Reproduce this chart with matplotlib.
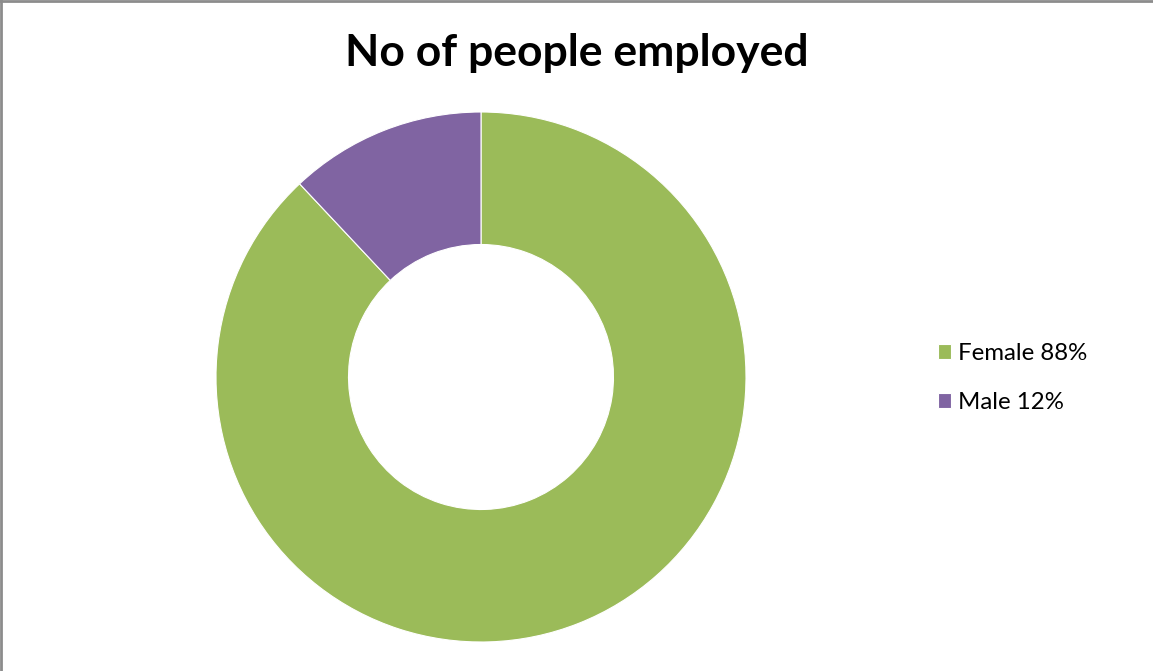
import matplotlib
matplotlib.use("Agg")
import matplotlib.pyplot as plt
from matplotlib.lines import Line2D

labels = ["Female 88%", "Male 12%"]
values = [88, 12]
colors = ["#9BBB59", "#8064A2"]
title = "No of people employed"

W, H = 1153, 671
fig = plt.figure(figsize=(W / 100, H / 100), dpi=100)
fig.patch.set_facecolor("white")

cx, cy, r = 481, 377, 265
ax = fig.add_axes([(cx - r) / W, (H - cy - r) / H, 2 * r / W, 2 * r / H])
wedges, _ = ax.pie(values, colors=colors, startangle=90, counterclock=False,
                   radius=1.0,
                   wedgeprops=dict(width=0.5, edgecolor="white", linewidth=0.8))
ax.set_xlim(-1, 1)
ax.set_ylim(-1, 1)
ax.set_aspect("auto")
ax.axis("off")

fig.text(577 / W, 1 - 53 / H, title, ha="center", va="center",
         fontsize=32, fontweight="bold", family=["Lato", "DejaVu Sans"])

leg = fig.legend(wedges, labels, loc="center left",
                 bbox_to_anchor=(938 / W, 1 - 378 / H),
                 frameon=False, prop={"family": ["Lato", "DejaVu Sans"], "size": 17.3},
                 handlelength=0.55, handleheight=0.55, handletextpad=0.3,
                 labelspacing=1.15, borderpad=0, borderaxespad=0)

fig.add_artist(Line2D([1 / W, 1 / W], [0, 1], transform=fig.transFigure,
                      color="#8C8C8C", linewidth=2))
fig.add_artist(Line2D([0, 1], [1 - 1 / H, 1 - 1 / H], transform=fig.transFigure,
                      color="#8C8C8C", linewidth=2))

fig.savefig("out.png", dpi=100, facecolor="white")
